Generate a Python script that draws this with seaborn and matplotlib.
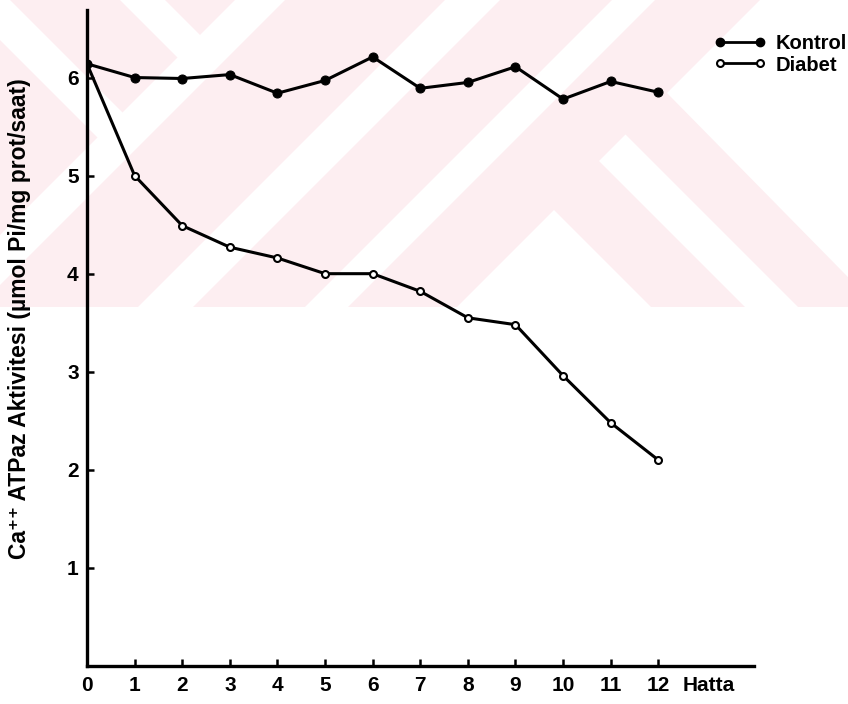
import matplotlib
matplotlib.use("Agg")
import matplotlib.pyplot as plt
import seaborn as sns
import pandas as pd
from matplotlib.lines import Line2D
from matplotlib.patches import Polygon, Rectangle

weeks = [0, 1, 2, 3, 4, 5, 6, 7, 8, 9, 10, 11, 12]
kontrol = [6.14, 6.00, 5.99, 6.03, 5.84, 5.97, 6.21, 5.89, 5.95, 6.11, 5.78, 5.96, 5.85]
diabet = [6.14, 5.00, 4.49, 4.27, 4.16, 4.00, 4.00, 3.82, 3.55, 3.48, 2.96, 2.48, 2.10]
y_ticks = [1, 2, 3, 4, 5, 6]
x_ticks = weeks
x_unit_label = "Hatta"
series_names = ["Kontrol", "Diabet"]
y_label = "Ca⁺⁺ ATPaz Aktivitesi (µmol Pi/mg prot/saat)"

sns.set_theme(style="ticks")
FAM = ['Liberation Sans', 'DejaVu Sans']
plt.rcParams['font.family'] = FAM
for k in ["text.color", "axes.labelcolor", "xtick.color", "ytick.color", "axes.edgecolor"]:
    plt.rcParams[k] = "black"

fig = plt.figure(figsize=(8.48, 7.04), dpi=100, facecolor="white")

# faint watermark of the scanned page (pixel coordinates, y downwards)
bg = fig.add_axes([0, 0, 1, 1], zorder=-10)
bg.set_xlim(0, 848)
bg.set_ylim(704, 0)
bg.axis("off")
pink = "#fdeef1"
rect = Rectangle((0, 0), 848, 307, facecolor=pink, edgecolor="none")
bg.add_patch(rect)
whites = [
    [(235, 0), (285, 0), (-35, 320), (-85, 320)],
    [(445, 0), (500, 0), (180, 320), (125, 320)],
    [(612, 0), (655, 0), (335, 320), (292, 320)],
    [(599, 161), (625.5, 134.5), (811, 320), (758, 320)],
    [(760, 0), (900, 0), (900, 330), (667, 93)],
    [(554, 210), (664, 320), (444, 320)],
    [(120, 0), (165, 0), (212.5, 47.5), (190, 70)],
    [(-40, 0), (10, 0), (135, 125), (110, 150)],
]
for pts in whites:
    p = Polygon(pts, closed=True, facecolor="white", edgecolor="none")
    bg.add_patch(p)
    p.set_clip_path(rect)

ax = fig.add_axes([0.1026, 0.054, 0.786, 0.932])
ax.patch.set_alpha(0)

df_k = pd.DataFrame({"week": weeks, "val": kontrol})
df_d = pd.DataFrame({"week": weeks, "val": diabet})

sns.lineplot(data=df_d, x="week", y="val", ax=ax, color="black", linewidth=2.2,
             marker="o", markersize=5, markerfacecolor="white",
             markeredgecolor="black", markeredgewidth=1.5)
sns.lineplot(data=df_k, x="week", y="val", ax=ax, color="black", linewidth=2.2,
             marker="o", markersize=6.5, markerfacecolor="black",
             markeredgecolor="black")

ax.set_xlim(0, 14)
ax.set_ylim(0, 6.69)
ax.set_xticks(x_ticks)
ax.set_xticklabels([str(w) for w in x_ticks], fontsize=15, fontweight="bold", family=FAM)
ax.set_yticks(y_ticks)
ax.set_yticklabels([str(v) for v in y_ticks], fontsize=15, fontweight="bold", family=FAM)
ax.tick_params(axis="both", direction="in", length=5, width=1.8, color="black")
ax.tick_params(axis="x", pad=7)
ax.tick_params(axis="y", pad=6)
sns.despine(ax=ax)
for s in ["left", "bottom"]:
    ax.spines[s].set_linewidth(2.4)
    ax.spines[s].set_color("black")
ax.set_xlabel("")
ax.set_ylabel(y_label, fontsize=16.5, fontweight="bold", family=FAM)
ax.yaxis.set_label_coords(-0.084, 0.53)
ax.annotate(x_unit_label, xy=(13.05, 0), xycoords=("data", "axes fraction"),
            xytext=(0, -7), textcoords="offset points", ha="center", va="top",
            fontsize=15, fontweight="bold", family=FAM)

handles = [
    Line2D([0], [0], color="black", linewidth=2.0, marker="o", markersize=6,
           markerfacecolor="black"),
    Line2D([0], [0], color="black", linewidth=2.0, marker="o", markersize=5,
           markerfacecolor="white", markeredgewidth=1.5),
]
fig.legend(handles, series_names, loc="upper left", bbox_to_anchor=(0.842, 0.951),
           frameon=False, numpoints=2, handlelength=2.6, handletextpad=0.45,
           labelspacing=0.1, borderpad=0, borderaxespad=0,
           prop={"weight": "bold", "size": 14.5, "family": FAM})

fig.savefig("out.png", dpi=100, facecolor="white")
